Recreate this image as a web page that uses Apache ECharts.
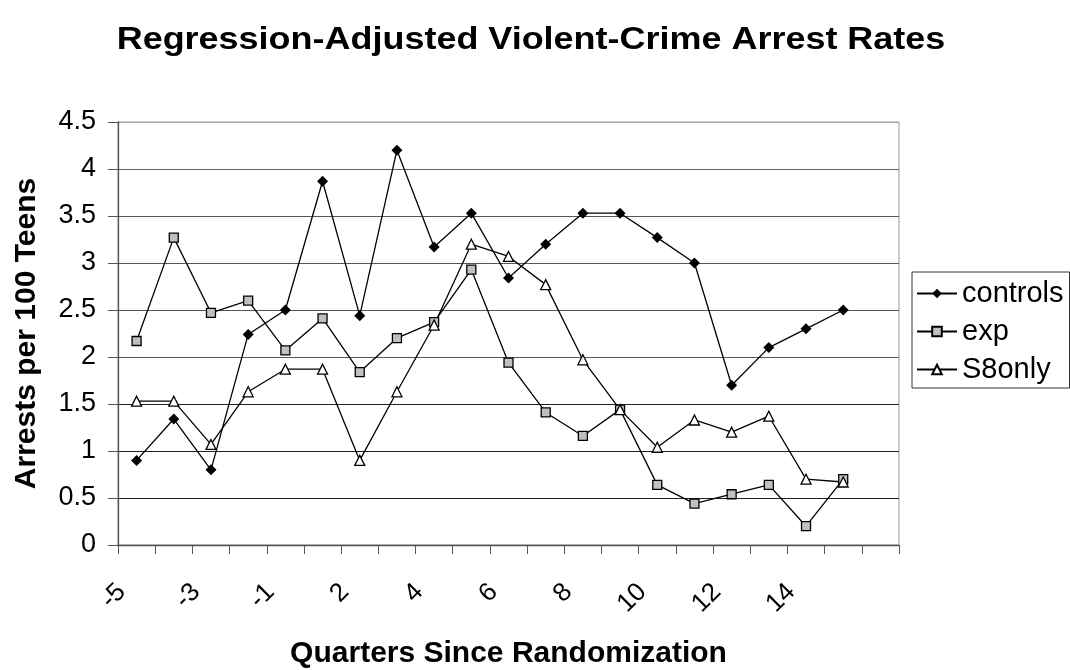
<!DOCTYPE html>
<html>
<head>
<meta charset="utf-8">
<script src="https://cdn.jsdelivr.net/npm/echarts@6/dist/echarts.min.js"></script>
<style>
  html, body { margin: 0; padding: 0; background: #fff; }
  #chart { width: 1070px; height: 670px; }
</style>
</head>
<body>
<div id="chart"></div>
<script>
// Quarters relative to randomization (there is no quarter 0); last slot left blank
const quarters = ['-5', '-4', '-3', '-2', '-1', '1', '2', '3', '4', '5', '6', '7', '8',
                  '9', '10', '11', '12', '13', '14', '15', ''];

// Arrests per 100 teens, by group
const controls = [0.9, 1.34, 0.8, 2.24, 2.5, 3.87, 2.44, 4.2, 3.17, 3.53, 2.84, 3.2,
                  3.53, 3.53, 3.27, 3.0, 1.7, 2.1, 2.3, 2.5];
const exp = [2.17, 3.27, 2.47, 2.6, 2.07, 2.41, 1.84, 2.2, 2.37, 2.93, 1.94, 1.41,
             1.16, 1.44, 0.64, 0.44, 0.54, 0.64, 0.2, 0.7];
const s8only = [1.53, 1.53, 1.07, 1.63, 1.87, 1.87, 0.9, 1.63, 2.34, 3.2, 3.07, 2.77,
                1.97, 1.44, 1.04, 1.33, 1.2, 1.37, 0.7, 0.67];

const titleText = 'Regression-Adjusted Violent-Crime Arrest Rates';
const font = '"Liberation Sans", Arial, Helvetica, sans-serif';

const chart = echarts.init(document.getElementById('chart'), null, { renderer: 'canvas' });

function lineSeries(name, data, symbol, size, fill) {
  return {
    name: name,
    type: 'line',
    data: data,
    symbol: symbol,
    symbolSize: size,
    showAllSymbol: true,
    animation: false,
    lineStyle: { color: '#000', width: 1.3 },
    itemStyle: { color: fill, borderColor: '#000', borderWidth: symbol === 'diamond' ? 0 : 1.3 }
  };
}

chart.setOption({
  backgroundColor: '#fff',
  animation: false,
  // Wide bold heading
  graphic: [{
    type: 'text',
    x: 531, y: 40,
    scaleX: 1.16,
    style: {
      text: titleText,
      font: 'bold 31px ' + font,
      textAlign: 'center',
      textVerticalAlign: 'middle',
      fill: '#000'
    }
  }],
  grid: {
    left: 118, right: 171, top: 122, bottom: 125,
    outerBoundsMode: 'none',
    containLabel: false,
    show: true, borderColor: '#999', borderWidth: 1
  },
  legend: {
    orient: 'vertical',
    left: 912, top: 272,
    padding: [7, 6, 4, 4],
    itemGap: 9,
    itemWidth: 40, itemHeight: 12,
    borderColor: '#333', borderWidth: 1,
    textStyle: { fontFamily: font, fontSize: 29, lineHeight: 28, color: '#000' },
    data: ['controls', 'exp', 'S8only']
  },
  xAxis: {
    type: 'category',
    data: quarters,
    boundaryGap: true,
    name: 'Quarters Since Randomization',
    nameLocation: 'middle',
    nameGap: 94,
    nameTextStyle: { fontFamily: font, fontWeight: 'bold', fontSize: 30, color: '#000' },
    axisLine: { lineStyle: { color: '#555', width: 1.3 } },
    axisTick: { show: true, length: 9, inside: false, interval: 0, lineStyle: { color: '#555' } },
    axisLabel: {
      interval: 1, rotate: 45, margin: 28,
      padding: [0, 21, 0, 0],
      fontFamily: font, fontSize: 26, color: '#000'
    },
    splitLine: { show: false }
  },
  yAxis: {
    type: 'value',
    min: 0, max: 4.5, interval: 0.5,
    name: 'Arrests per 100 Teens',
    nameLocation: 'middle',
    nameGap: 76,
    nameTextStyle: { fontFamily: font, fontWeight: 'bold', fontSize: 30, color: '#000' },
    axisLine: { show: true, lineStyle: { color: '#555', width: 1.3 } },
    axisTick: { show: true, length: 10, lineStyle: { color: '#555' } },
    axisLabel: { margin: 22, fontFamily: font, fontSize: 27, color: '#000' },
    splitLine: {
      show: true,
      lineStyle: {
        color: ['#555', '#222', '#222', '#222', '#555', '#555', '#555', '#555', '#666', '#aaa'],
        width: 1.2
      }
    }
  },
  series: [
    lineSeries('controls', controls, 'diamond', 11, '#000'),
    lineSeries('exp', exp, 'rect', 9, '#c0c0c0'),
    lineSeries('S8only', s8only, 'triangle', 10, '#fff')
  ]
});
</script>
</body>
</html>
